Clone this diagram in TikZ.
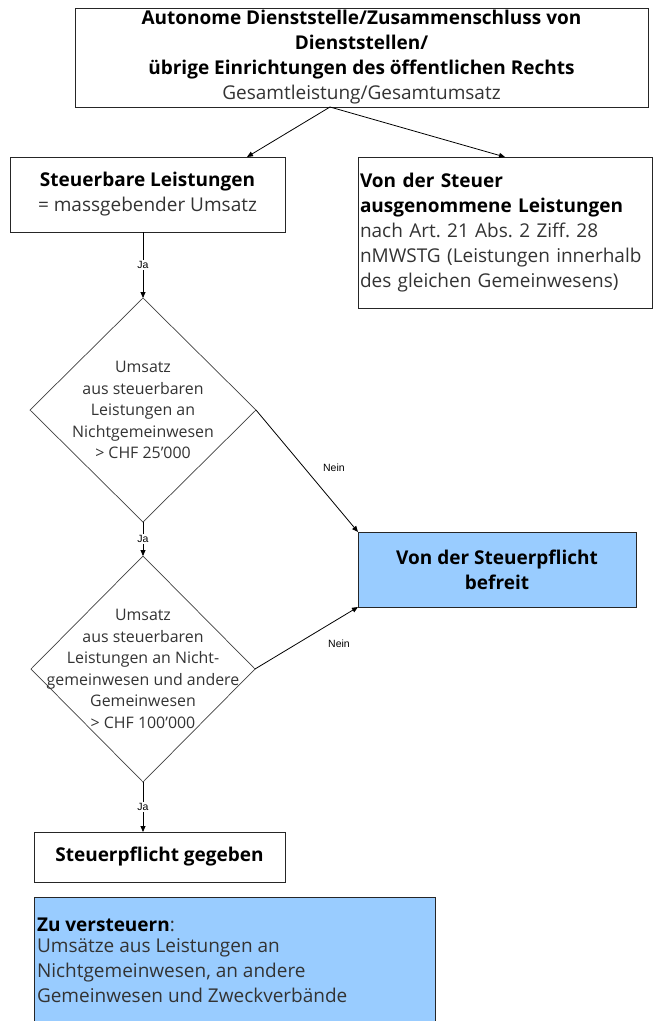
\documentclass[tikz,border=0pt]{standalone}
\usepackage{fontspec}
\setmainfont{Open Sans}
\newfontfamily\lblfont{Liberation Sans}
\usetikzlibrary{shapes.geometric,arrows.meta,calc}
\definecolor{lightblue}{HTML}{99CCFF}
\frenchspacing
\begin{document}
\begin{tikzpicture}[x=1pt,y=-1pt,
  every node/.style={inner sep=0pt, outer sep=0pt},
  mainfont/.style={font=\fontsize{19}{25}\selectfont},
  dfont/.style={font=\fontsize{15.9}{21.5}\selectfont, text=black!80},
  box/.style={draw=black!85, line width=1pt, mainfont},
  dia/.style={draw=black!75, line width=0.7pt, diamond, shape aspect=1},
  arr/.style={draw=black, line width=0.8pt, -{Triangle[length=6pt,width=5pt]}},
  lbl/.style={font=\lblfont\fontsize{10.5}{11}\selectfont, fill=white, inner sep=1.5pt},
  nlbl/.style={font=\lblfont\fontsize{10.5}{11}\selectfont},
]
\useasboundingbox (0,0) rectangle (656,1021);

\node[box, minimum width=573pt, minimum height=99pt, align=center] (top) at (361.5,57.5)
  {\textbf{Autonome Dienststelle/Zusammenschluss von}\\
   \textbf{Dienststellen/}\\
   \textbf{übrige Einrichtungen des öffentlichen Rechts}\\
   {\color{black!80}Gesamtleistung/Gesamtumsatz}};

\node[box, minimum width=275pt, minimum height=75pt, align=center] (steu) at (147.5,194.5)
  {\textbf{Steuerbare Leistungen}\\{\color{black!80}= massgebender Umsatz}};

\node[box, minimum width=294pt, minimum height=151pt, text width=290pt, align=left, inner xsep=2pt] (ausg) at (505,232.5)
  {\textbf{Von der Steuer}\\
   \textbf{ausgenommene Leistungen}\\
   {\color{black!80}nach Art. 21 Abs. 2 Ziff. 28}\\
   {\color{black!80}nMWSTG (Leistungen innerhalb}\\
   {\color{black!80}des gleichen Gemeinwesens)}};

\node[dia, minimum width=226pt, minimum height=224pt] (d1) at (143,410) {};
\node[dfont, align=center] (d1t) at (d1.center)
  {Umsatz\\aus steuerbaren\\Leistungen an\\Nichtgemeinwesen\\> CHF 25’000};

\node[box, fill=lightblue, minimum width=278pt, minimum height=75pt, align=center] (bef) at (497,569.5)
  {\textbf{Von der Steuerpflicht}\\\textbf{befreit}};

\node[dia, minimum width=224pt, minimum height=226pt] (d2) at (143,669) {};
\node[dfont, align=center] (d2t) at (d2.center)
  {Umsatz\\aus steuerbaren\\Leistungen an Nicht-\\gemeinwesen und andere\\Gemeinwesen\\> CHF 100’000};

\node[box, minimum width=251pt, minimum height=50pt] (geg) at (159.5,857)
  {\textbf{Steuerpflicht gegeben}};

\node[box, fill=lightblue, minimum width=401pt, minimum height=140pt, anchor=north west] (zu) at (34,897) {};
\node[mainfont, anchor=north west, align=left, text=black!80] (zut) at ([xshift=3pt,yshift=-21pt]zu.north west)
  {{\color{black}\textbf{Zu versteuern}}:\\[-4pt]
   Umsätze aus Leistungen an\\
   Nichtgemeinwesen, an andere\\
   Gemeinwesen und Zweckverbände};

\draw[arr] ([xshift=-31.5pt]top.south) -- ([xshift=99.5pt]steu.north);
\draw[arr] ([xshift=-31.5pt]top.south) -- (ausg.north);

\draw[arr] (steu.south -| d1.north) -- node[lbl]{Ja} (d1.north);
\draw[arr] (d1.south) -- node[lbl]{Ja} (d2.north);
\draw[arr] (d2.south) -- node[lbl]{Ja} (d2.south |- geg.north);

\draw[arr] (d1.east) -- node[nlbl, pos=0.475, xshift=29.5pt]{Nein} (bef.north west);
\draw[arr] (d2.east) -- node[nlbl, pos=0.403, xshift=42.5pt]{Nein} (bef.south west);
\end{tikzpicture}
\end{document}
